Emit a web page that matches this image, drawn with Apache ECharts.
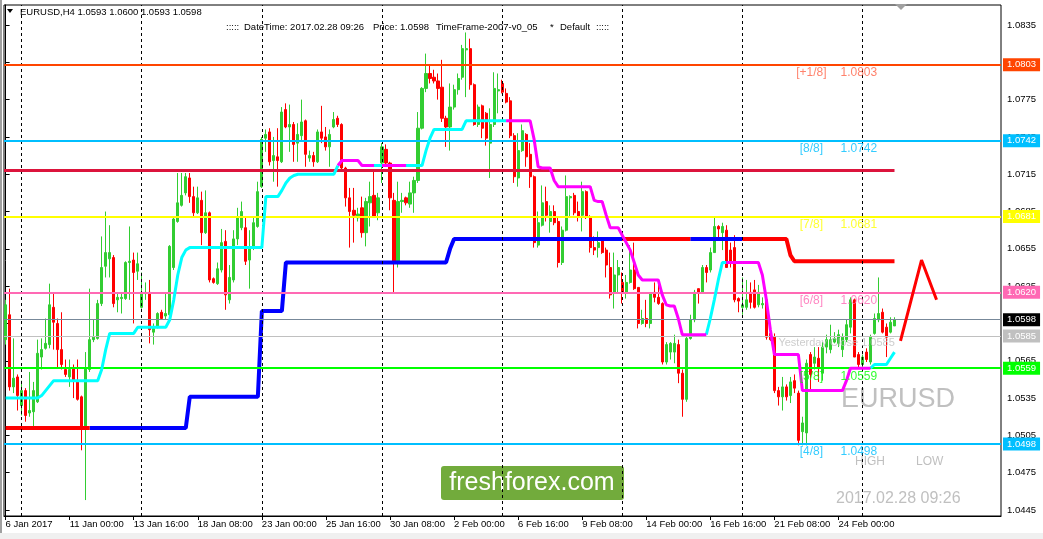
<!DOCTYPE html>
<html><head><meta charset="utf-8">
<script src="https://cdn.jsdelivr.net/npm/echarts@6/dist/echarts.min.js"></script>
<style>html,body{margin:0;padding:0;background:#fff}#c{width:1043px;height:539px}</style>
</head><body><div id="c"></div>
<script>
// ---------------- DATA ----------------
const opens = [
1.0582,1.0602,1.0544,1.0552,1.0529,1.0541,1.0523,1.0524,1.0532,1.0568,
1.0575,1.0578,1.0608,1.0595,1.0574,1.0558,1.0552,1.0559,1.0549,1.0536,
1.0511,1.0558,1.0582,1.0583,1.0611,1.0641,1.0647,1.0648,1.0614,1.0615,
1.0615,1.0644,1.0646,1.0637,1.0608,1.0619,1.0620,1.0588,1.0592,1.0604,
1.0601,1.0602,1.0640,1.0677,1.0690,1.0700,1.0712,1.0697,1.0684,1.0694,
1.0668,1.0684,1.0631,1.0627,1.0638,1.0661,1.0614,1.0630,1.0663,1.0672,
1.0672,1.0646,1.0656,1.0673,1.0705,1.0744,1.0749,1.0726,1.0729,1.0725,
1.0767,1.0753,1.0755,1.0740,1.0746,1.0758,1.0728,1.0730,1.0725,1.0749,
1.0745,1.0737,1.0753,1.0760,1.0755,1.0720,1.0696,1.0686,1.0680,1.0688,
1.0668,1.0692,1.0698,1.0684,1.0724,1.0735,1.0724,1.0694,1.0644,1.0693,
1.0696,1.0691,1.0700,1.0710,1.0752,1.0784,1.0796,1.0793,1.0790,1.0785,
1.0760,1.0753,1.0769,1.0783,1.0793,1.0815,1.0816,1.0787,1.0755,1.0770,
1.0764,1.0740,1.0755,1.0782,1.0788,1.0780,1.0774,1.0746,1.0712,1.0734,
1.0747,1.0731,1.0713,1.0658,1.0674,1.0693,1.0677,1.0685,1.0677,1.0644,
1.0670,1.0696,1.0698,1.0685,1.0682,1.0701,1.0681,1.0656,1.0656,1.0662,
1.0654,1.0640,1.0620,1.0634,1.0628,1.0620,1.0628,1.0638,1.0624,1.0595,
1.0599,1.0595,1.0620,1.0616,1.0611,1.0564,1.0572,1.0572,1.0578,1.0555,
1.0534,1.0583,1.0598,1.0623,1.0620,1.0640,1.0638,1.0652,1.0673,1.0668,
1.0670,1.0654,1.0656,1.0615,1.0608,1.0608,1.0620,1.0622,1.0610,1.0610,
1.0614,1.0587,1.0584,1.0541,1.0536,1.0544,1.0537,1.0549,1.0539,1.0508,
1.0507,1.0570,1.0563,1.0567,1.0555,1.0576,1.0574,1.0580,1.0579,1.0574,
1.0582,1.0592,1.0614,1.0570,1.0562,1.0572,1.0564,1.0587,1.0598,1.0604,
1.0592,1.0588,1.0593];
const highs = [
1.0614,1.0623,1.0583,1.0554,1.0549,1.0543,1.0556,1.0548,1.0582,1.0583,
1.0599,1.0627,1.0620,1.0599,1.0604,1.0566,1.0566,1.0562,1.0566,1.0537,
1.0572,1.0623,1.0598,1.0614,1.0665,1.0685,1.0674,1.0650,1.0620,1.0619,
1.0645,1.0673,1.0652,1.0652,1.0636,1.0628,1.0630,1.0595,1.0604,1.0606,
1.0619,1.0658,1.0680,1.0716,1.0716,1.0716,1.0716,1.0705,1.0705,1.0701,
1.0702,1.0685,1.0632,1.0644,1.0671,1.0670,1.0642,1.0670,1.0688,1.0693,
1.0681,1.0670,1.0681,1.0709,1.0745,1.0751,1.0752,1.0745,1.0752,1.0769,
1.0772,1.0771,1.0757,1.0756,1.0775,1.0759,1.0734,1.0733,1.0751,1.0770,
1.0753,1.0751,1.0765,1.0762,1.0756,1.0721,1.0704,1.0704,1.0688,1.0697,
1.0696,1.0709,1.0717,1.0700,1.0740,1.0739,1.0725,1.0700,1.0709,1.0700,
1.0697,1.0709,1.0713,1.0765,1.0785,1.0812,1.0803,1.0799,1.0796,1.0807,
1.0762,1.0788,1.0787,1.0796,1.0819,1.0829,1.0824,1.0788,1.0771,1.0771,
1.0765,1.0768,1.0797,1.0796,1.0791,1.0784,1.0777,1.0748,1.0748,1.0755,
1.0748,1.0740,1.0714,1.0685,1.0706,1.0705,1.0690,1.0690,1.0680,1.0673,
1.0714,1.0698,1.0700,1.0693,1.0709,1.0702,1.0682,1.0665,1.0669,1.0664,
1.0656,1.0652,1.0652,1.0646,1.0636,1.0634,1.0658,1.0660,1.0624,1.0606,
1.0614,1.0620,1.0628,1.0628,1.0612,1.0580,1.0580,1.0586,1.0582,1.0558,
1.0586,1.0602,1.0622,1.0623,1.0642,1.0642,1.0656,1.0680,1.0674,1.0676,
1.0674,1.0660,1.0666,1.0616,1.0632,1.0630,1.0628,1.0630,1.0626,1.0616,
1.0616,1.0588,1.0587,1.0544,1.0552,1.0546,1.0552,1.0554,1.0541,1.0520,
1.0566,1.0572,1.0576,1.0576,1.0580,1.0586,1.0594,1.0588,1.0590,1.0587,
1.0598,1.0616,1.0615,1.0572,1.0570,1.0575,1.0586,1.0603,1.0632,1.0607,
1.0595,1.0600,1.0600];
const lows = [
1.0578,1.0541,1.0539,1.0525,1.0521,1.0516,1.0520,1.0512,1.0531,1.0558,
1.0574,1.0575,1.0574,1.0559,1.0558,1.0552,1.0544,1.0535,1.0533,1.0493,
1.0453,1.0556,1.0580,1.0582,1.0609,1.0632,1.0632,1.0608,1.0604,1.0603,
1.0614,1.0614,1.0595,1.0630,1.0607,1.0614,1.0579,1.0578,1.0591,1.0598,
1.0598,1.0600,1.0638,1.0676,1.0689,1.0698,1.0692,1.0681,1.0683,1.0658,
1.0667,1.0628,1.0627,1.0626,1.0636,1.0606,1.0611,1.0628,1.0658,1.0670,
1.0642,1.0623,1.0654,1.0672,1.0704,1.0733,1.0722,1.0709,1.0705,1.0724,
1.0752,1.0733,1.0725,1.0725,1.0742,1.0721,1.0725,1.0721,1.0724,1.0740,
1.0734,1.0721,1.0752,1.0753,1.0718,1.0689,1.0656,1.0660,1.0677,1.0664,
1.0657,1.0673,1.0680,1.0678,1.0708,1.0722,1.0686,1.0620,1.0640,1.0684,
1.0690,1.0688,1.0684,1.0708,1.0751,1.0781,1.0788,1.0788,1.0775,1.0757,
1.0737,1.0734,1.0767,1.0779,1.0791,1.0777,1.0783,1.0754,1.0753,1.0744,
1.0738,1.0712,1.0753,1.0764,1.0780,1.0772,1.0744,1.0708,1.0705,1.0733,
1.0721,1.0704,1.0656,1.0656,1.0673,1.0677,1.0668,1.0674,1.0640,1.0642,
1.0669,1.0681,1.0682,1.0677,1.0669,1.0679,1.0652,1.0650,1.0648,1.0651,
1.0632,1.0615,1.0607,1.0620,1.0611,1.0615,1.0627,1.0622,1.0591,1.0594,
1.0592,1.0591,1.0612,1.0610,1.0562,1.0562,1.0566,1.0563,1.0547,1.0520,
1.0532,1.0582,1.0596,1.0611,1.0619,1.0628,1.0636,1.0652,1.0663,1.0654,
1.0640,1.0640,1.0612,1.0604,1.0602,1.0606,1.0607,1.0607,1.0608,1.0607,
1.0582,1.0581,1.0539,1.0529,1.0525,1.0533,1.0531,1.0539,1.0497,1.0497,
1.0497,1.0540,1.0558,1.0548,1.0549,1.0571,1.0571,1.0579,1.0576,1.0568,
1.0580,1.0587,1.0568,1.0560,1.0559,1.0564,1.0562,1.0586,1.0596,1.0587,
1.0568,1.0587,1.0593];
const closes = [
1.0610,1.0544,1.0551,1.0537,1.0541,1.0521,1.0525,1.0541,1.0571,1.0574,
1.0579,1.0610,1.0596,1.0574,1.0562,1.0554,1.0558,1.0549,1.0534,1.0511,
1.0559,1.0582,1.0584,1.0611,1.0640,1.0652,1.0652,1.0611,1.0616,1.0616,
1.0644,1.0645,1.0636,1.0643,1.0620,1.0620,1.0590,1.0591,1.0603,1.0599,
1.0603,1.0657,1.0679,1.0692,1.0698,1.0713,1.0697,1.0684,1.0696,1.0668,
1.0684,1.0630,1.0628,1.0639,1.0660,1.0618,1.0632,1.0663,1.0681,1.0685,
1.0645,1.0656,1.0676,1.0701,1.0743,1.0747,1.0725,1.0730,1.0726,1.0765,
1.0753,1.0755,1.0739,1.0747,1.0757,1.0731,1.0730,1.0725,1.0749,1.0744,
1.0737,1.0747,1.0759,1.0755,1.0720,1.0696,1.0685,1.0682,1.0683,1.0668,
1.0693,1.0697,1.0681,1.0696,1.0737,1.0724,1.0696,1.0644,1.0693,1.0694,
1.0692,1.0700,1.0710,1.0752,1.0784,1.0796,1.0792,1.0790,1.0784,1.0760,
1.0753,1.0769,1.0783,1.0792,1.0816,1.0816,1.0787,1.0755,1.0769,1.0752,
1.0744,1.0755,1.0784,1.0783,1.0781,1.0773,1.0746,1.0713,1.0734,1.0750,
1.0729,1.0713,1.0660,1.0676,1.0692,1.0682,1.0685,1.0676,1.0644,1.0670,
1.0697,1.0697,1.0684,1.0681,1.0701,1.0681,1.0656,1.0654,1.0660,1.0652,
1.0642,1.0618,1.0634,1.0640,1.0620,1.0628,1.0638,1.0623,1.0595,1.0599,
1.0595,1.0619,1.0616,1.0611,1.0564,1.0578,1.0579,1.0579,1.0555,1.0534,
1.0583,1.0598,1.0620,1.0620,1.0640,1.0636,1.0652,1.0673,1.0671,1.0673,
1.0640,1.0644,1.0614,1.0613,1.0610,1.0614,1.0612,1.0608,1.0620,1.0611,
1.0584,1.0582,1.0541,1.0536,1.0544,1.0536,1.0548,1.0543,1.0501,1.0515,
1.0563,1.0554,1.0568,1.0560,1.0576,1.0582,1.0582,1.0583,1.0586,1.0584,
1.0594,1.0614,1.0568,1.0562,1.0568,1.0566,1.0584,1.0599,1.0603,1.0588,
1.0584,1.0596,1.0598];

// trailing stop line (cyan = up, magenta = down)
const trail = [
1.0535,1.0535,1.0535,1.0535,1.0535,1.0535,1.0535,1.0535,1.0535,1.0537,
1.0541,1.0545,1.0549,1.0549,1.0549,1.0549,1.0549,1.0549,1.0549,1.0549,
1.0549,1.0549,1.0549,1.0549,1.0558,1.0574,1.0587,1.0587,1.0587,1.0587,
1.0587,1.0587,1.0587,1.0592,1.0592,1.0592,1.0592,1.0592,1.0592,1.0592,
1.0592,1.0598,1.0614,1.0634,1.0648,1.0654,1.0656,1.0656,1.0656,1.0656,
1.0656,1.0656,1.0656,1.0656,1.0656,1.0656,1.0656,1.0656,1.0656,1.0656,
1.0656,1.0656,1.0656,1.0656,1.0656,1.0697,1.0697,1.0697,1.0697,1.0702,
1.0708,1.0712,1.0714,1.0715,1.0715,1.0715,1.0715,1.0715,1.0715,1.0715,
1.0715,1.0715,1.0715,1.0722,1.0726,1.0726,1.0726,1.0726,1.0726,1.0722,
1.0722,1.0722,1.0722,1.0722,1.0722,1.0722,1.0722,1.0722,1.0722,1.0722,
1.0722,1.0722,1.0722,1.0722,1.0722,1.0734,1.0744,1.0751,1.0751,1.0751,
1.0751,1.0751,1.0751,1.0751,1.0751,1.0758,1.0758,1.0758,1.0758,1.0758,
1.0758,1.0758,1.0758,1.0758,1.0758,1.0758,1.0758,1.0758,1.0758,1.0758,
1.0758,1.0758,1.0743,1.0721,1.0720,1.0720,1.0720,1.0710,1.0705,1.0705,
1.0705,1.0705,1.0705,1.0705,1.0705,1.0705,1.0705,1.0694,1.0693,1.0693,
1.0682,1.0672,1.0672,1.0672,1.0666,1.0660,1.0654,1.0644,1.0634,1.0630,
1.0630,1.0630,1.0630,1.0630,1.0618,1.0610,1.0609,1.0609,1.0599,1.0586,
1.0586,1.0586,1.0586,1.0586,1.0586,1.0586,1.0599,1.0614,1.0630,1.0644,
1.0644,1.0644,1.0644,1.0644,1.0644,1.0644,1.0644,1.0644,1.0644,1.0634,
1.0614,1.0590,1.0570,1.0570,1.0570,1.0570,1.0570,1.0570,1.0570,1.0541,
1.0541,1.0541,1.0541,1.0541,1.0541,1.0541,1.0541,1.0541,1.0541,1.0541,
1.0549,1.0559,1.0559,1.0559,1.0559,1.0559,1.0559,1.0562,1.0562,1.0562,
1.0562,1.0567,1.0572];
const trailUpRanges = [[0,83],[93,94],[101,125],[176,180],[217,222]];

// stepped level line (blue = up, red = down)
const stepLine = [
1.0511,1.0511,1.0511,1.0511,1.0511,1.0511,1.0511,1.0511,1.0511,1.0511,
1.0511,1.0511,1.0511,1.0511,1.0511,1.0511,1.0511,1.0511,1.0511,1.0511,
1.0511,1.0511,1.0511,1.0511,1.0511,1.0511,1.0511,1.0511,1.0511,1.0511,
1.0511,1.0511,1.0511,1.0511,1.0511,1.0511,1.0511,1.0511,1.0511,1.0511,
1.0511,1.0511,1.0511,1.0511,1.0511,1.0511,1.0536,1.0536,1.0536,1.0536,
1.0536,1.0536,1.0536,1.0536,1.0536,1.0536,1.0536,1.0536,1.0536,1.0536,
1.0536,1.0536,1.0536,1.0536,1.0605,1.0605,1.0605,1.0605,1.0605,1.0605,
1.0644,1.0644,1.0644,1.0644,1.0644,1.0644,1.0644,1.0644,1.0644,1.0644,
1.0644,1.0644,1.0644,1.0644,1.0644,1.0644,1.0644,1.0644,1.0644,1.0644,
1.0644,1.0644,1.0644,1.0644,1.0644,1.0644,1.0644,1.0644,1.0644,1.0644,
1.0644,1.0644,1.0644,1.0644,1.0644,1.0644,1.0644,1.0644,1.0644,1.0644,
1.0644,1.0655,1.0663,1.0663,1.0663,1.0663,1.0663,1.0663,1.0663,1.0663,
1.0663,1.0663,1.0663,1.0663,1.0663,1.0663,1.0663,1.0663,1.0663,1.0663,
1.0663,1.0663,1.0663,1.0663,1.0663,1.0663,1.0663,1.0663,1.0663,1.0663,
1.0663,1.0663,1.0663,1.0663,1.0663,1.0663,1.0663,1.0663,1.0663,1.0663,
1.0663,1.0663,1.0663,1.0663,1.0663,1.0663,1.0663,1.0663,1.0663,1.0663,
1.0663,1.0663,1.0663,1.0663,1.0663,1.0663,1.0663,1.0663,1.0663,1.0663,
1.0663,1.0663,1.0663,1.0663,1.0663,1.0663,1.0663,1.0663,1.0663,1.0663,
1.0663,1.0663,1.0663,1.0663,1.0663,1.0663,1.0663,1.0663,1.0663,1.0663,
1.0663,1.0663,1.0663,1.0663,1.0663,1.0663,1.0650,1.0645,1.0645,1.0645,
1.0645,1.0645,1.0645,1.0645,1.0645,1.0645,1.0645,1.0645,1.0645,1.0645,
1.0645,1.0645,1.0645,1.0645,1.0645,1.0645,1.0645,1.0645,1.0645,1.0645,
1.0645,1.0645,1.0645];
const stepDownRanges = [[0,21],[155,171],[185,222]];

// projected zigzag after last bar
const forecastX = [223.5, 228.75, 232.5];
const forecastY = [1.0581, 1.0646, 1.0614];

// horizontal levels
const murreyNames  = ['[+1/8]','[8/8]','[7/8]','[6/8]','[5/8]','[4/8]'];
const murreyLevels = [1.0803, 1.0742, 1.0681, 1.0620, 1.0559, 1.0498];
const murreyColors = ['#FF4500','#00BFFF','#FFFF00','#FF69B4','#00FF00','#00BFFF'];
const murreyTextColors = ['#FF6347','#00BFFF','#FFFF00','#FF69B4','#00FF00','#00BFFF'];
const pivotLine = 1.0718;
const bidPrice = 1.0598;
const yesterdayClose = 1.0585;

// axes
const weekSeparators = [4, 34, 64, 94, 124, 154, 184, 214];
const xTickIdx = [0,16,32,48,64,80,96,112,128,144,160,176,192,208];
const xTickLabels = ['6 Jan 2017','11 Jan 00:00','13 Jan 16:00','18 Jan 08:00','23 Jan 00:00','25 Jan 16:00','30 Jan 08:00','2 Feb 00:00','6 Feb 16:00','9 Feb 08:00','14 Feb 00:00','16 Feb 16:00','21 Feb 08:00','24 Feb 00:00'];
const yTickVals = [1.0445,1.0475,1.0505,1.0535,1.0565,1.0595,1.0625,1.0655,1.0685,1.0715,1.0745,1.0775,1.0805,1.0835];

// ---------------- CHART ----------------
const FONT = '"Liberation Sans", Arial, sans-serif';
const chart = echarts.init(document.getElementById('c'));

function inRanges(i, ranges) { return ranges.some(r => i >= r[0] && i <= r[1]); }
function splitLine(values, ranges) {
  const a = [], b = [], n = values.length;
  for (let i = 0; i < n; i++) {
    const s = inRanges(i, ranges);
    const t = i + 1 < n ? inRanges(i + 1, ranges) : s;
    a.push([i, (s || t) ? values[i] : null]);
    b.push([i, (!s || !t) ? values[i] : null]);
  }
  return [a, b];
}
const [trailUp, trailDown] = splitLine(trail, trailUpRanges);
const [stepDown, stepUp] = splitLine(stepLine, stepDownRanges);

const candleData = opens.map((o, i) => [i, o, closes[i], lows[i], highs[i]]);
const xLabelMap = {};
xTickIdx.forEach((v, k) => { xLabelMap[v] = xTickLabels[k]; });

function tag(value, color, bg, width) {
  return {
    yAxis: value,
    lineStyle: { color: color, width: width, type: 'solid' },
    label: {
      show: true, position: 'end', distance: 2,
      formatter: value.toFixed(4),
      color: '#fff', backgroundColor: bg,
      padding: [2, 4, 1, 4], fontSize: 9.5, fontFamily: FONT
    }
  };
}
const levelMarks = murreyLevels.map((v, k) => tag(v, murreyColors[k], murreyColors[k], 2));
levelMarks.push(tag(bidPrice, '#778899', '#000000', 1));
levelMarks.push(tag(yesterdayClose, '#C0C0C0', '#C0C0C0', 1));
levelMarks.push([
  { coord: [-0.4, pivotLine], lineStyle: { color: '#DC143C', width: 3, type: 'solid' }, label: { show: false } },
  { coord: [candleData.length - 1, pivotLine] }
]);

const labelData = [];
murreyLevels.forEach((v, k) => {
  labelData.push({ value: [201.25, v], label: { formatter: murreyNames[k], color: murreyTextColors[k] } });
  labelData.push({ value: [213.1, v], label: { formatter: v.toFixed(4), color: murreyTextColors[k] } });
});
labelData.push({ value: [193, yesterdayClose], label: { formatter: 'Yesterday Close ' + yesterdayClose.toFixed(4), color: '#C0C0C0', align: 'left', fontSize: 11, offset: [0, 7] } });

const option = {
  animation: false,
  backgroundColor: '#ffffff',
  grid: { left: 4, right: 42, top: 5, bottom: 23, show: true, borderColor: '#000', borderWidth: 1, backgroundColor: '#fff' },
  xAxis: {
    type: 'value', min: -0.4, max: 248.6,
    axisLine: { show: true, lineStyle: { color: '#000', width: 1 } },
    axisTick: { show: true, customValues: xTickIdx, length: 4, lineStyle: { color: '#000' } },
    axisLabel: { customValues: xTickIdx, formatter: v => xLabelMap[v] || '', align: 'left', margin: 3, color: '#000', fontSize: 9.5, fontFamily: FONT },
    splitLine: { show: false }
  },
  yAxis: {
    type: 'value', position: 'right', min: 1.044018, max: 1.085108, scale: true,
    axisLine: { show: true, lineStyle: { color: '#000', width: 1 } },
    axisTick: { show: true, customValues: yTickVals, length: 4, lineStyle: { color: '#000' } },
    axisLabel: { customValues: yTickVals, formatter: v => v.toFixed(4), margin: 6, color: '#000', fontSize: 9.5, fontFamily: FONT },
    splitLine: { show: false }
  },
  series: [
    {
      type: 'line', data: [], z: 1, silent: true,
      markLine: {
        silent: true, symbol: ['none', 'none'], label: { show: false }, precision: 6,
        lineStyle: { color: '#000', width: 1, type: [3, 3] },
        data: weekSeparators.map(v => ({ xAxis: v }))
      }
    },
    {
      type: 'candlestick', data: candleData, encode: { x: 0, y: [1, 2, 3, 4] },
      barWidth: 2.6, z: 2, silent: true,
      itemStyle: { color: '#32CD32', color0: '#FF0000', borderColor: '#32CD32', borderColor0: '#FF0000', borderWidth: 1 }
    },
    {
      type: 'line', data: [], z: 3, silent: true,
      markLine: { silent: true, symbol: ['none', 'none'], precision: 6, data: levelMarks }
    },
    { type: 'line', data: stepUp, z: 4, showSymbol: false, silent: true, lineStyle: { color: '#0000FF', width: 4 } },
    { type: 'line', data: stepDown, z: 4, showSymbol: false, silent: true, lineStyle: { color: '#FF0000', width: 4 } },
    { type: 'line', data: trailUp, z: 5, showSymbol: false, silent: true, lineStyle: { color: '#00FFFF', width: 3 } },
    { type: 'line', data: trailDown, z: 5, showSymbol: false, silent: true, lineStyle: { color: '#FF00FF', width: 3 } },
    { type: 'line', data: forecastX.map((x, k) => [x, forecastY[k]]), z: 5, showSymbol: false, silent: true, lineStyle: { color: '#FF0000', width: 3 } },
    {
      type: 'scatter', data: labelData, symbolSize: 0, z: 6, silent: true,
      label: { show: true, position: [0, 0], align: 'center', verticalAlign: 'middle', offset: [0, 8], fontSize: 12, fontFamily: FONT }
    }
  ],
  graphic: [
    { type: 'rect', shape: { x: 0, y: 0, width: 2, height: 539 }, style: { fill: '#A0A0A0' } },
    { type: 'rect', shape: { x: 0, y: 533, width: 1043, height: 6 }, style: { fill: '#F0F0F0' } },
    { type: 'polygon', shape: { points: [[7, 9], [13, 9], [10, 13]] }, style: { fill: '#000' } },
    { type: 'text', x: 20, y: 12, style: { text: 'EURUSD,H4 1.0593 1.0600 1.0593 1.0598', font: '9.5px ' + FONT, fill: '#000', verticalAlign: 'middle' } },
    { type: 'text', x: 226, y: 27, style: { text: ':::::', font: '9.5px ' + FONT, fill: '#000', verticalAlign: 'middle' } },
    { type: 'text', x: 244, y: 27, style: { text: 'DateTime: 2017.02.28 09:26', font: '9.5px ' + FONT, fill: '#000', verticalAlign: 'middle' } },
    { type: 'text', x: 373, y: 27, style: { text: 'Price: 1.0598', font: '9.5px ' + FONT, fill: '#000', verticalAlign: 'middle' } },
    { type: 'text', x: 436, y: 27, style: { text: 'TimeFrame-2007-v0_05', font: '9.5px ' + FONT, fill: '#000', verticalAlign: 'middle' } },
    { type: 'text', x: 550, y: 27, style: { text: '*', font: '9.5px ' + FONT, fill: '#000', verticalAlign: 'middle' } },
    { type: 'text', x: 560, y: 27, style: { text: 'Default', font: '9.5px ' + FONT, fill: '#000', verticalAlign: 'middle' } },
    { type: 'text', x: 596, y: 27, style: { text: ':::::', font: '9.5px ' + FONT, fill: '#000', verticalAlign: 'middle' } },
    { type: 'polygon', shape: { points: [[895, 4], [907, 4], [901, 10]] }, style: { fill: '#A0A0A0' } },
    { type: 'text', x: 841, y: 400, style: { text: 'EURUSD', font: '27px ' + FONT, fill: '#C0C0C0', verticalAlign: 'middle' } },
    { type: 'text', x: 855, y: 462, style: { text: 'HIGH', font: '12px ' + FONT, fill: '#C0C0C0', verticalAlign: 'middle' } },
    { type: 'text', x: 916, y: 462, style: { text: 'LOW', font: '12px ' + FONT, fill: '#C0C0C0', verticalAlign: 'middle' } },
    { type: 'text', x: 836, y: 499, style: { text: '2017.02.28 09:26', font: '16px ' + FONT, fill: '#C0C0C0', verticalAlign: 'middle' } },
    { type: 'rect', shape: { x: 441, y: 466, width: 183, height: 34, r: 3 }, style: { fill: '#72AB3C' } },
    { type: 'text', x: 532, y: 483, style: { text: 'freshforex.com', font: '25px ' + FONT, fill: '#fff', align: 'center', verticalAlign: 'middle' } }
  ]
};
chart.setOption(option);
</script>
</body></html>
